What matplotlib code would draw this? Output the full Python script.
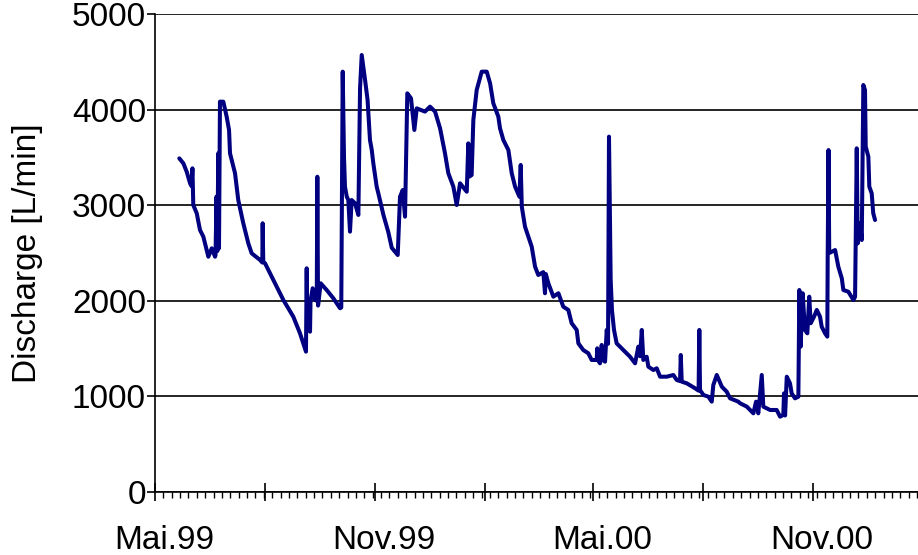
import numpy as np
import pandas as pd
import matplotlib
matplotlib.use('Agg')
import matplotlib.pyplot as plt
import matplotlib.dates as mdates
import matplotlib.transforms as mtransforms
from matplotlib.ticker import FixedLocator, FixedFormatter

# Datos (dias desde 1.5.1999, caudal en L/min)
start = '1999-05-01'
days = [20.3, 23.7, 26.5, 29.3, 30.5, 31.3, 32.0, 34.9, 37.6, 40.4, 44.6, 47.4, 50.2,
        50.6, 51.4, 52.1, 52.9, 53.5, 54.3, 57.1, 59.9, 61.9, 62.7, 66.9, 69.6, 73.8,
        78.0, 80.8, 87.8, 89.7, 90.0, 90.5, 92.0, 98.9, 107.3, 115.6, 121.2, 126.2,
        126.8, 127.3, 128.2, 129.6, 130.0, 131.8, 133.8, 135.2, 135.7, 136.3, 138.5,
        143.5, 149.1, 151.9, 154.7, 155.7, 156.9, 158.0, 158.8, 160.3, 161.6, 163.0,
        164.4, 165.8, 167.2, 170.0, 171.4, 172.8, 175.6, 177.7, 179.7, 181.2, 182.5,
        185.3, 186.7, 190.9, 195.0, 197.9, 202.9, 203.6, 204.8, 207.1, 209.0, 210.3,
        210.9, 214.0, 216.8, 218.8, 225.7, 229.9, 234.1, 238.3, 242.4, 245.2, 249.4,
        252.2, 255.0, 260.6, 261.9, 262.9, 264.7, 266.1, 268.9, 273.1, 277.3, 280.1,
        282.8, 287.0, 288.4, 291.2, 295.4, 298.2, 301.0, 304.6, 305.7, 306.6, 309.3,
        312.1, 314.9, 317.7, 320.4, 324.6, 326.0, 326.7, 328.8, 333.0, 337.2, 341.3,
        345.5, 348.3, 352.5, 353.9, 358.0, 362.2, 365.0, 369.2, 369.7, 370.7, 372.0,
        373.4, 374.5, 376.2, 377.6, 378.7, 379.5, 380.9, 382.0, 383.7, 385.9, 391.5,
        397.1, 401.3, 404.0, 405.5, 406.9, 408.2, 411.0, 412.4, 416.6, 419.4, 422.2,
        427.8, 433.3, 436.1, 438.9, 439.5, 440.3, 444.5, 451.4, 454.4, 455.0, 455.6,
        458.4, 462.6, 465.4, 466.7, 469.6, 473.8, 477.9, 480.7, 487.6, 489.1, 494.7,
        500.2, 502.4, 504.3, 507.2, 508.5, 514.1, 519.7, 522.5, 525.2, 525.8, 526.7,
        528.1, 530.8, 532.2, 535.0, 537.8, 538.6, 539.7, 541.4, 543.3, 545.3, 546.9,
        548.1, 550.9, 553.2, 555.9, 557.3, 560.1, 562.0, 562.3, 563.0, 563.6, 568.5,
        571.2, 574.1, 575.4, 579.6, 583.8, 585.2, 586.6, 587.4, 589.3, 590.8, 592.1,
        593.5, 594.1, 596.3, 597.1, 599.1, 600.4, 601.9]
discharge = [3490, 3438, 3350, 3229, 3200, 3386, 3002, 2915, 2741, 2671, 2461, 2549, 2461,
             2480, 3089, 2520, 3543, 2550, 4083, 4083, 3926, 3787, 3543, 3334, 3054, 2811,
             2601, 2497, 2427, 2400, 2811, 2410, 2392, 2218, 2008, 1834, 1660, 1468,
             2340, 1700, 1904, 1677, 2000, 2131, 2008, 2000, 3298, 1950, 2183,
             2113, 2026, 1974, 1922, 1930, 4397, 3500, 3194, 3089, 3054, 2723,
             3054, 3037, 3020, 2898, 4223, 4571, 4310, 4100, 3682, 3577, 3438,
             3194, 3124, 2900, 2720, 2555, 2479, 2700, 3089, 3159, 2880, 3800,
             4170, 4118, 3787, 4013, 3979, 4031, 3979, 3804, 3543, 3334, 3194,
             3002, 3229, 3141, 3647, 3300, 3316, 3891, 4205, 4397, 4397, 4275,
             4066, 3926, 3804, 3682, 3577, 3334, 3194, 3089, 3421, 2985, 2775,
             2671, 2566, 2357, 2270, 2300, 2079, 2280, 2183, 2043, 2079, 1938,
             1904, 1765, 1695, 1555, 1485, 1451, 1381, 1381, 1503, 1370, 1346,
             1538, 1380, 1363, 1695, 1550, 3717, 2218, 1900, 1695, 1555, 1485,
             1415, 1346, 1520, 1420, 1695, 1381, 1415, 1311, 1276, 1294, 1206,
             1206, 1224, 1172, 1160, 1433, 1154, 1137, 1085, 1060, 1695, 1067,
             1015, 997, 945, 1119, 1224, 1102, 1049, 980, 945, 928, 893,
             823, 945, 823, 1224, 893, 858, 858, 788, 806, 1032, 800,
             1206, 1137, 1032, 980, 997, 2113, 1520, 2079, 1695, 1660, 2043,
             1765, 1834, 1904, 1834, 1729, 1660, 1625, 2460, 3577, 2500, 2531,
             2357, 2235, 2113, 2095, 2008, 2043, 3595, 2601, 2811, 2636, 4257,
             4205, 3612, 3508, 3194, 3124, 2915, 2845]

tick_dates = ['1999-05-01', '1999-08-01', '1999-11-01', '2000-02-01',
              '2000-05-01', '2000-08-01', '2000-11-01']
tick_labels = ['Mai.99', '', 'Nov.99', '', 'Mai.00', '', 'Nov.00']
y_ticks = [0, 1000, 2000, 3000, 4000, 5000]

plt.rcParams['font.family'] = ['Liberation Sans', 'DejaVu Sans']

fechas = pd.Timestamp(start) + pd.to_timedelta(days, unit='D')

fig = plt.figure(figsize=(9.18, 5.55), dpi=100)
ax = fig.add_axes([155/918, 63/555, 763/918, 478/555])

ax.plot(fechas, discharge, color='#000080', lw=2.9, solid_joinstyle='round',
        solid_capstyle='round')

x0 = mdates.date2num(pd.Timestamp(start))
ax.set_xlim(x0, x0 + 637.8)
ax.set_ylim(0, 5000)

# Ejes
ax.xaxis.set_major_locator(FixedLocator(mdates.date2num(pd.to_datetime(tick_dates))))
ax.xaxis.set_major_formatter(FixedFormatter(tick_labels))
ax.xaxis.set_minor_locator(FixedLocator(x0 + np.arange(0, 640, 7)))
ax.set_yticks(y_ticks)

ax.tick_params(axis='x', which='major', direction='inout', length=13, width=1.2,
               labelsize=24, pad=17, color='black')
ax.tick_params(axis='x', which='minor', direction='out', length=4.5, width=1.0)
ax.tick_params(axis='y', direction='out', length=6, width=1.2, labelsize=24, pad=0.5)

# etiquetas del eje x algo desplazadas a la derecha, como en el original
desplaz = mtransforms.ScaledTranslation(9/100, 0, fig.dpi_scale_trans)
for lbl in ax.get_xticklabels():
    lbl.set_transform(lbl.get_transform() + desplaz)

ax.yaxis.grid(True, color='black', lw=1.2)
ax.set_axisbelow(True)
for s in ['top', 'right']:
    ax.spines[s].set_visible(False)
for s in ['left', 'bottom']:
    ax.spines[s].set_linewidth(1.2)

ax.set_ylabel('Discharge [L/min]', fontsize=24)
ax.yaxis.set_label_coords(-0.147, 0.5)

fig.savefig('out.png', dpi=100)
